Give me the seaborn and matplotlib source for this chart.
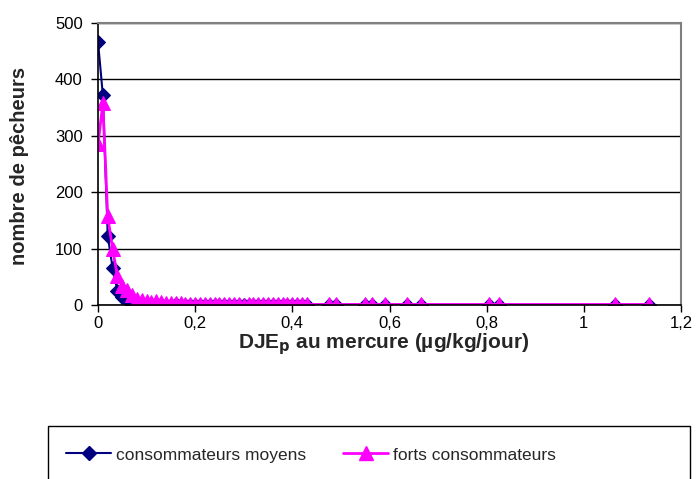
import pandas as pd
import matplotlib.pyplot as plt
import matplotlib.patches as mpatches
from matplotlib.lines import Line2D
import seaborn as sns

# DJE (µg/kg/jour) - classes
dje = [0.00, 0.01, 0.02, 0.03, 0.04, 0.05, 0.06, 0.07, 0.08, 0.09,
       0.10, 0.11, 0.12, 0.13, 0.14, 0.15, 0.16, 0.17, 0.18, 0.19,
       0.20, 0.21, 0.22, 0.23, 0.24, 0.25, 0.26, 0.27, 0.28, 0.29,
       0.30, 0.31, 0.32, 0.33, 0.34, 0.35, 0.36, 0.37, 0.38, 0.39,
       0.40, 0.41, 0.42, 0.43,
       0.475, 0.49, 0.55, 0.565, 0.59, 0.635, 0.665, 0.805, 0.825, 1.065, 1.135]

# nombre de pêcheurs
moyens = [467, 372, 123, 66, 25, 14, 8, 4, 3, 2,
          1, 1, 0, 1, 0, 0, 1, 0, 0, 0,
          0, 0, 0, 0, 0, 0, 0, 0, 0, 0,
          0, 0, 0, 0, 0, 0, 0, 0, 0, 0,
          0, 0, 0, 0,
          0, 0, 0, 0, 0, 0, 0, 0, 0, 0, 0]
forts = [285, 358, 157, 100, 51, 34, 26, 17, 11, 8,
         7, 6, 7, 5, 4, 4, 3, 3, 2, 2,
         1, 1, 1, 2, 1, 1, 1, 1, 1, 1,
         0, 1, 1, 1, 1, 1, 1, 1, 1, 1,
         1, 1, 1, 1,
         1, 1, 1, 1, 1, 1, 1, 1, 1, 1, 1]

x_ticks = [0, 0.2, 0.4, 0.6, 0.8, 1.0, 1.2]
x_ticklabels = ['0', '0,2', '0,4', '0,6', '0,8', '1', '1,2']
y_ticks = [0, 100, 200, 300, 400, 500]

df = pd.DataFrame({'dje': dje, 'moyens': moyens, 'forts': forts})

sns.set_theme(style="white")
plt.rcParams['font.family'] = ['Liberation Sans', 'DejaVu Sans']

fig = plt.figure(figsize=(6.97, 4.79), dpi=100)
ax = fig.add_axes([98 / 697, 1 - 305 / 479, 583 / 697, 282 / 479])

c_moy = '#000080'
c_fort = '#FF00FF'

sns.lineplot(data=df, x='dje', y='moyens', ax=ax, color=c_moy, linewidth=1.5,
             marker='D', markersize=7, markeredgecolor=c_moy,
             estimator=None, sort=False)
sns.lineplot(data=df, x='dje', y='forts', ax=ax, color=c_fort, linewidth=2,
             marker='^', markersize=10, markeredgecolor=c_fort,
             estimator=None, sort=False)

ax.set_xlim(0, 1.2)
ax.set_ylim(0, 500)
ax.set_xticks(x_ticks)
ax.set_xticklabels(x_ticklabels)
ax.set_yticks(y_ticks)
ax.tick_params(axis='both', labelsize=12, colors='black', length=5, width=1,
               direction='out', bottom=True, left=True)
ax.tick_params(axis='x', pad=3)
ax.tick_params(axis='y', pad=6)
ax.grid(axis='y', color='black', linewidth=1)
ax.set_axisbelow(True)

for s in ['left', 'bottom']:
    ax.spines[s].set_color('black')
    ax.spines[s].set_linewidth(1.2)
for s in ['top', 'right']:
    ax.spines[s].set_color('#808080')
    ax.spines[s].set_linewidth(1.5)

ax.set_xlabel(r'DJE$_\mathbf{p}$ au mercure (µg/kg/jour)', fontsize=15,
              fontweight='bold')
ax.set_ylabel('nombre de pêcheurs', fontsize=14.5, fontweight='bold')
ax.xaxis.set_label_coords(0.49, -0.092)
ax.yaxis.set_label_coords(-0.118, 0.493)

# légende en bas, dans un cadre
fig.patches.append(mpatches.Rectangle((48 / 697, -0.02), 642 / 697, 0.02 + 53 / 479,
                                      transform=fig.transFigure, fill=False,
                                      edgecolor='black', linewidth=1))
handles = [
    Line2D([], [], color=c_moy, linewidth=1.5, marker='D', markersize=7),
    Line2D([], [], color=c_fort, linewidth=2, marker='^', markersize=10),
]
fig.legend(handles, ['consommateurs moyens', 'forts consommateurs'],
           loc='center left', bbox_to_anchor=(66 / 697, 1 - 455 / 479),
           ncol=2, frameon=False, fontsize=12.5, handlelength=2.6,
           handletextpad=0.3, columnspacing=2.1, borderpad=0, borderaxespad=0)

fig.savefig('out.png', dpi=100)
